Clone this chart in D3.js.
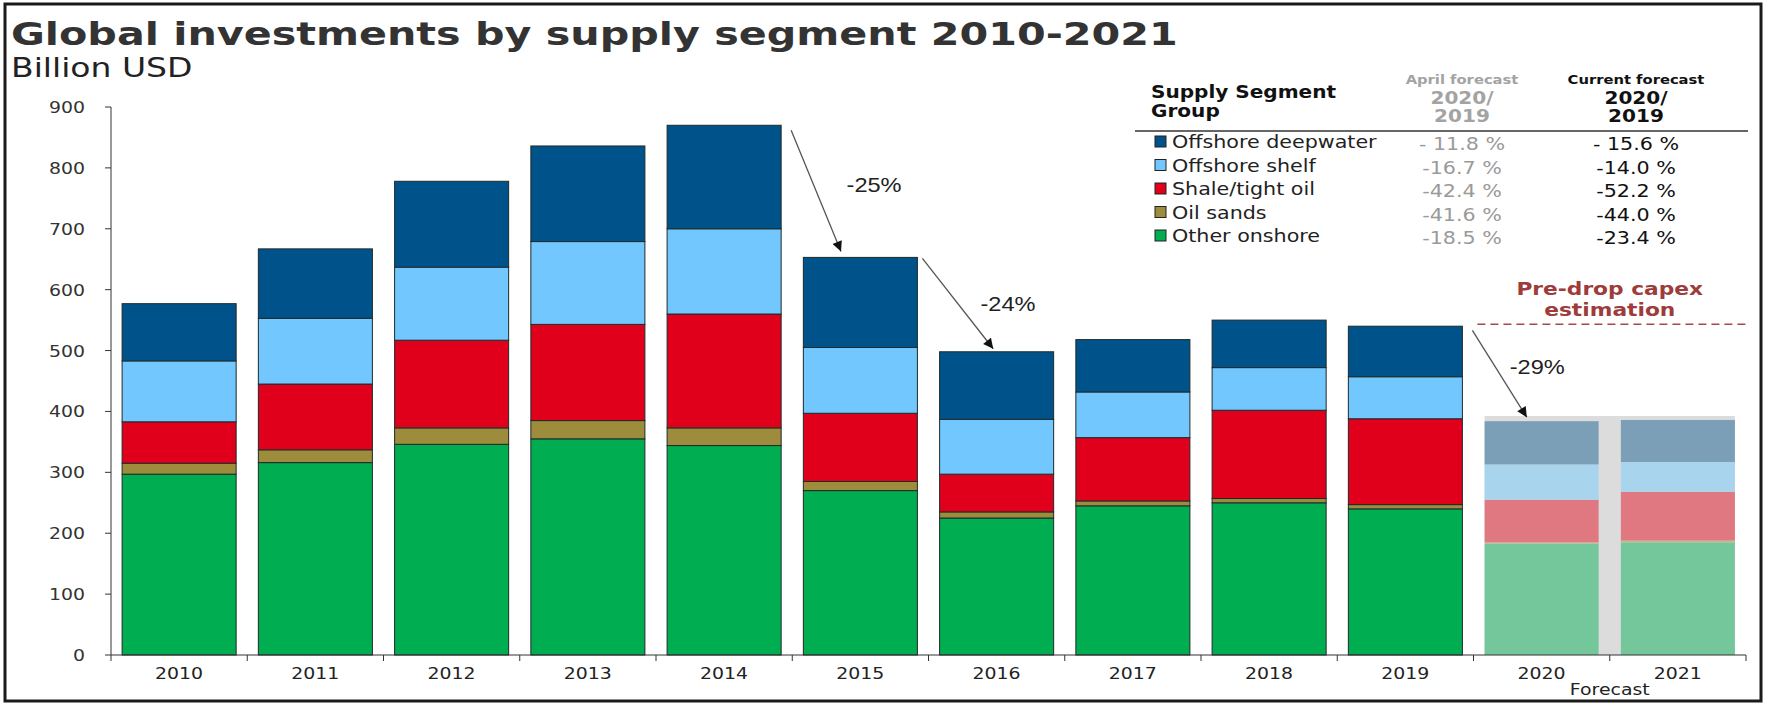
<!DOCTYPE html>
<html><head><meta charset="utf-8">
<script src="https://cdn.jsdelivr.net/npm/d3@7"></script>
<style>body{margin:0;background:#fff}svg{display:block}</style>
</head><body>
<svg id="chart" width="1767" height="703"></svg>
<script>
// ---------- DATA ----------
const years = ["2010","2011","2012","2013","2014","2015","2016","2017","2018","2019","2020","2021"];
const forecastYears = ["2020","2021"];
const otherOnshore      = [297,316,346,355,344,270,225,245,250,240,183,185];
const oilSands          = [18, 21, 27, 30, 29, 15, 10, 8,  7,  7,  2,  3];
const shaleTightOil     = [68, 108,144,158,187,112,62, 104,145,141,70, 80];
const offshoreShelf     = [100,108,120,136,140,108,90, 75, 70, 69, 58, 49];
const offshoreDeepwater = [94, 114,141,157,170,148,111,86, 78, 83, 71, 69];
const yTicks = [0,100,200,300,400,500,600,700,800,900];
const legendNames   = ["Offshore deepwater","Offshore shelf","Shale/tight oil","Oil sands","Other onshore"];
const aprilForecast   = ["- 11.8 %","-16.7 %","-42.4 %","-41.6 %","-18.5 %"];
const currentForecast = ["- 15.6 %","-14.0 %","-52.2 %","-44.0 %","-23.4 %"];
const dropLabels = ["-25%","-24%","-29%"];
const preDropLevel = 543;

// ---------- STYLE ----------
const SX = 1.18; // horizontal stretch of the original picture's text
const segKeys = ["other","sands","shale","shelf","deep"];
const colors  = {deep:"#00538a", shelf:"#72c8fe", shale:"#e0001b", sands:"#9c8c3c", other:"#00ad50"};
const fcColors= {deep:"#7b9fb7", shelf:"#a9d4ee", shale:"#df7881", sands:"#c2b88c", other:"#74c69b"};
const legendKeys = ["deep","shelf","shale","sands","other"];
const FONT = "'DejaVu Sans', Verdana, sans-serif";

const svg = d3.select("#chart");
const rows = years.map((yr,i)=>({year:yr, other:otherOnshore[i], sands:oilSands[i], shale:shaleTightOil[i], shelf:offshoreShelf[i], deep:offshoreDeepwater[i]}));
const stack = d3.stack().keys(segKeys)(rows);
const totals = rows.map(r=>segKeys.reduce((s,k)=>s+r[k],0));

const x = d3.scaleBand().domain(years).range([111,1746]).paddingInner(0.163).paddingOuter(0.0815);
const y = d3.scaleLinear().domain([0,900]).range([655,107]);
const bw = x.bandwidth();
const step = x.step();
const gap = step-bw;

function txt(g, str, px, py, opts){
  const sx = opts.sx||SX;
  return g.append("text").attr("transform",`translate(${px},${py}) scale(${sx},1)`)
    .attr("font-family", opts.family||FONT).attr("font-size",opts.size||16)
    .attr("font-weight",opts.weight||"normal").attr("fill",opts.fill||"#222")
    .attr("text-anchor",opts.anchor||"start").text(str);
}

// frame
svg.append("rect").attr("x",5).attr("y",4).attr("width",1756).attr("height",697)
  .attr("fill","none").attr("stroke","#1a1a1a").attr("stroke-width",3);

// title
txt(svg,"Global investments by supply segment 2010-2021",11,45,{size:32,sx:1.29,weight:"bold",fill:"#333"});
txt(svg,"Billion USD",11,77,{size:26,sx:1.27,fill:"#222"});

// forecast gray band
const fcMax = d3.max(forecastYears.map(fy=>totals[years.indexOf(fy)]));
svg.append("rect").attr("x",x(forecastYears[0])).attr("y",y(fcMax)-4)
  .attr("width",x(forecastYears[1])+bw-x(forecastYears[0])).attr("height",y(0)-y(fcMax)+4)
  .attr("fill","#dcdcdc");

// bars
const gBars = svg.append("g");
stack.forEach(layer=>{
  const key = layer.key;
  gBars.selectAll(null).data(layer).enter().append("rect")
    .attr("x",d=>x(d.data.year))
    .attr("y",d=>y(d[1]))
    .attr("width",bw)
    .attr("height",d=>Math.max(0,y(d[0])-y(d[1])))
    .attr("fill",d=>forecastYears.includes(d.data.year)?fcColors[key]:colors[key])
    .attr("stroke",d=>forecastYears.includes(d.data.year)?"none":"#1f2a2a")
    .attr("stroke-width",1);
});

// y axis
const gy = svg.append("g");
gy.append("line").attr("x1",111).attr("x2",111).attr("y1",y(900)).attr("y2",y(0)).attr("stroke","#333");
yTicks.forEach(t=>{
  gy.append("line").attr("x1",105).attr("x2",111).attr("y1",y(t)).attr("y2",y(t)).attr("stroke","#333");
  txt(gy,String(t),85,y(t)+6,{size:16,anchor:"end",fill:"#333"});
});

// x axis
const gx = svg.append("g");
gx.append("line").attr("x1",111).attr("x2",1746).attr("y1",y(0)).attr("y2",y(0)).attr("stroke","#333");
years.forEach((yr,i)=>{
  const bx = x(yr)-gap/2;
  gx.append("line").attr("x1",bx).attr("x2",bx).attr("y1",y(0)).attr("y2",y(0)+6).attr("stroke","#333");
  txt(gx,yr,x(yr)+bw/2,679,{size:16,anchor:"middle",fill:"#222"});
});
gx.append("line").attr("x1",1746).attr("x2",1746).attr("y1",y(0)).attr("y2",y(0)+6).attr("stroke","#333");
txt(gx,"Forecast",x(forecastYears[0])+bw+gap/2,695,{size:16,anchor:"middle",fill:"#222"});

// arrows
const defs = svg.append("defs");
defs.append("marker").attr("id","ah").attr("viewBox","0 0 10 10").attr("refX",10).attr("refY",5)
  .attr("markerWidth",12).attr("markerHeight",10).attr("markerUnits","userSpaceOnUse").attr("orient","auto")
  .append("path").attr("d","M0,0 L10,5 L0,10 Z").attr("fill","#111");
const ti = yr=>totals[years.indexOf(yr)];
const arrows = [
  {x1:x("2014")+bw+10, y1:y(ti("2014"))+5, x2:x("2015")+bw*0.33, y2:y(ti("2015"))-6},
  {x1:x("2015")+bw+5,  y1:y(ti("2015"))+1, x2:x("2016")+bw*0.47, y2:y(ti("2016"))-3},
  {x1:x("2019")+bw+10, y1:y(preDropLevel)+6, x2:x("2020")+bw*0.37, y2:y(ti("2020"))-4}
];
arrows.forEach(a=>svg.append("line").attr("x1",a.x1).attr("y1",a.y1).attr("x2",a.x2).attr("y2",a.y2)
  .attr("stroke","#555").attr("stroke-width",1.3).attr("marker-end","url(#ah)"));

const LS = "'Liberation Sans', Arial, sans-serif";
txt(svg,dropLabels[0],x("2015")+bw*0.62,y(760),{size:20,family:LS,anchor:"middle",fill:"#222"});
txt(svg,dropLabels[1],x("2016")+bw*0.60,y(565),{size:20,family:LS,anchor:"middle",fill:"#222"});
txt(svg,dropLabels[2],x("2020")+bw*0.22,y(461),{size:20,family:LS,anchor:"start",fill:"#222"});

// pre-drop capex
const pdx = x("2020")+bw+gap/2;
txt(svg,"Pre-drop capex",pdx,y(591),{size:17,sx:1.28,weight:"bold",anchor:"middle",fill:"#9e3b3b"});
txt(svg,"estimation",pdx,y(556),{size:17,sx:1.28,weight:"bold",anchor:"middle",fill:"#9e3b3b"});
svg.append("line").attr("x1",x("2019")+bw+15).attr("x2",1748).attr("y1",y(preDropLevel)).attr("y2",y(preDropLevel))
  .attr("stroke","#a44a48").attr("stroke-width",1.5).attr("stroke-dasharray","8,5");

// legend table
const gl = svg.append("g");
const c1 = 1462, c2 = 1636;
txt(gl,"Supply Segment",1151,98,{size:17,weight:"bold",fill:"#111"});
txt(gl,"Group",1151,117,{size:17,weight:"bold",fill:"#111"});
txt(gl,"April forecast",c1,84,{size:12.5,weight:"bold",anchor:"middle",fill:"#a3a3a3"});
txt(gl,"2020/",c1,104,{size:17,weight:"bold",anchor:"middle",fill:"#a3a3a3"});
txt(gl,"2019",c1,122,{size:17,weight:"bold",anchor:"middle",fill:"#a3a3a3"});
txt(gl,"Current forecast",c2,84,{size:12.5,weight:"bold",anchor:"middle",fill:"#111"});
txt(gl,"2020/",c2,104,{size:17,weight:"bold",anchor:"middle",fill:"#111"});
txt(gl,"2019",c2,122,{size:17,weight:"bold",anchor:"middle",fill:"#111"});
gl.append("line").attr("x1",1135).attr("x2",1748).attr("y1",131).attr("y2",131).attr("stroke","#333").attr("stroke-width",1.5);
legendNames.forEach((nm,i)=>{
  const cy = 142+i*23.5;
  gl.append("rect").attr("x",1155).attr("y",cy-6).attr("width",11).attr("height",11)
    .attr("fill",colors[legendKeys[i]]).attr("stroke","#222").attr("stroke-width",1);
  txt(gl,nm,1172,cy+6,{size:17.5,fill:"#222"});
  txt(gl,aprilForecast[i],c1,cy+8,{size:17.5,anchor:"middle",fill:"#9a9a9a"});
  txt(gl,currentForecast[i],c2,cy+8,{size:17.5,anchor:"middle",fill:"#111"});
});
</script>
</body></html>
